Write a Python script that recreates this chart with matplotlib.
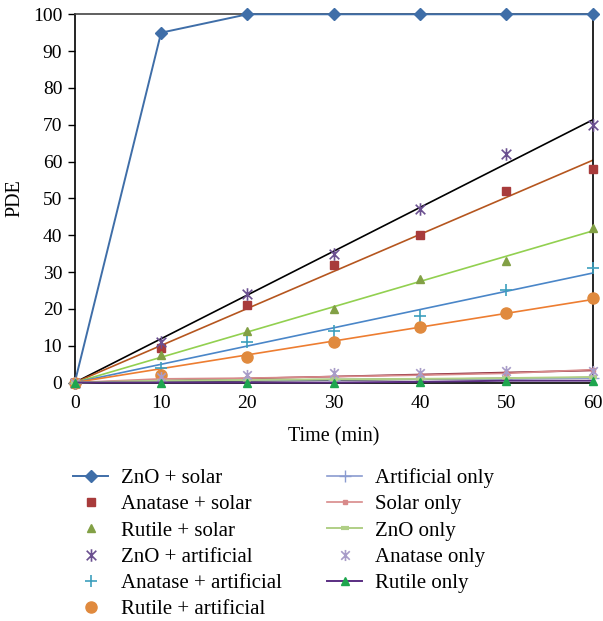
import numpy as np
import matplotlib
matplotlib.use("Agg")
import matplotlib.pyplot as plt
from matplotlib.path import Path

# Data
time_min = [0, 10, 20, 30, 40, 50, 60]

zno_solar = [0, 95, 100, 100, 100, 100, 100]
anatase_solar = [0, 9.5, 21, 32, 40, 52, 58]
rutile_solar = [0, 7.5, 14, 20, 28, 33, 42]
zno_artificial = [0, 11, 24, 35, 47, 62, 70]
anatase_artificial = [0, 4, 11, 14, 18, 25, 31]
rutile_artificial = [0, 2, 7, 11, 15, 19, 23]
artificial_only = [0, 0.5, 0.6, 0.8, 1.0, 1.0, 1.2]
solar_only = [0, 1.0, 1.2, 1.6, 2.0, 2.5, 3.5]
zno_only = [0, 0.5, 0.7, 0.9, 1.0, 1.2, 1.5]
anatase_only = [0, 1.5, 2.0, 2.5, 2.5, 3.0, 3.0]
rutile_only = [0, 0, 0, 0, 0.2, 0.5, 0.5]

plt.rcParams["font.family"] = ["Liberation Serif", "DejaVu Serif"]

# Excel-style asterisk marker: x with a vertical bar
star = Path([(-1, -1), (1, 1), (-1, 1), (1, -1), (0, -1.3), (0, 1.3)],
            [Path.MOVETO, Path.LINETO, Path.MOVETO, Path.LINETO, Path.MOVETO, Path.LINETO])

fig = plt.figure(figsize=(6.03, 6.21), dpi=100)
ax = fig.add_axes([0.124, 0.384, 0.859, 0.593])
x = np.array(time_min, dtype=float)

# trend lines (linear fit through origin) for the marker-only series
def trend(y, color):
    y = np.array(y, dtype=float)
    k = (x * y).sum() / (x * x).sum()
    ax.plot(x, k * x, color=color, lw=1.2, zorder=2)

trend(zno_artificial, "black")
trend(anatase_solar, "#b5561f")
trend(rutile_solar, "#92d050")
trend(anatase_artificial, "#4a86c8")
trend(rutile_artificial, "#ed7d31")
trend(solar_only, "#8b2a3a")
trend(artificial_only, "#222222")

kw = dict(clip_on=False, zorder=4)
ax.plot(x, zno_solar, color="#3f6ea8", lw=1.4, marker="D", ms=6, label="ZnO + solar", **kw)
ax.plot(x, anatase_solar, ls="none", marker="s", ms=6, color="#a83b3b", label="Anatase + solar", **kw)
ax.plot(x, rutile_solar, ls="none", marker="^", ms=6, color="#82a045", label="Rutile + solar", **kw)
ax.plot(x, zno_artificial, ls="none", marker=star, ms=9, mew=1.2, color="#6b5090", label="ZnO + artificial", **kw)
ax.plot(x, anatase_artificial, ls="none", marker="+", ms=9, mew=1.2, color="#3d9fbd", label="Anatase + artificial", **kw)
ax.plot(x, rutile_artificial, ls="none", marker="o", ms=8, color="#e08a3e", label="Rutile + artificial", **kw)
ax.plot(x, artificial_only, color="#8a9bd0", lw=1.2, marker="+", ms=8, label="Artificial only", **kw)
ax.plot(x, solar_only, color="#d88a8a", lw=1.2, marker="s", ms=3, label="Solar only", **kw)
ax.plot(x, zno_only, color="#b0cf86", lw=1.4, marker="_", ms=6, mew=3, label="ZnO only", **kw)
ax.plot(x, anatase_only, ls="none", marker=star, ms=8, mew=1.2, color="#a89cc8", label="Anatase only", **kw)
ax.plot(x, rutile_only, color="#5a2d82", lw=1.4, marker="^", ms=6, mfc="#1ea64e", mec="#1ea64e", label="Rutile only", **kw)

ax.set_xlim(0, 60)
ax.set_ylim(0, 100)
ax.set_xticks(range(0, 61, 10))
ax.set_yticks(range(0, 101, 10))
ax.tick_params(axis="y", direction="out", length=5, width=1, labelsize=14, pad=4)
ax.tick_params(axis="x", length=0, labelsize=14, pad=9)
for s in ax.spines.values():
    s.set_color("black")
    s.set_linewidth(1.2)
ax.spines["top"].set_color("#444444")
ax.set_xlabel("Time (min)", fontsize=14.5, labelpad=11)
ax.set_ylabel("PDE", fontsize=14.5, labelpad=6)

fig.legend(loc="upper left", bbox_to_anchor=(0.121, 0.246), ncol=2, frameon=False,
           fontsize=15, handlelength=1.7, handletextpad=0.6, columnspacing=2.17,
           labelspacing=0.32, borderpad=0, borderaxespad=0)

fig.savefig("out.png", dpi=100)
